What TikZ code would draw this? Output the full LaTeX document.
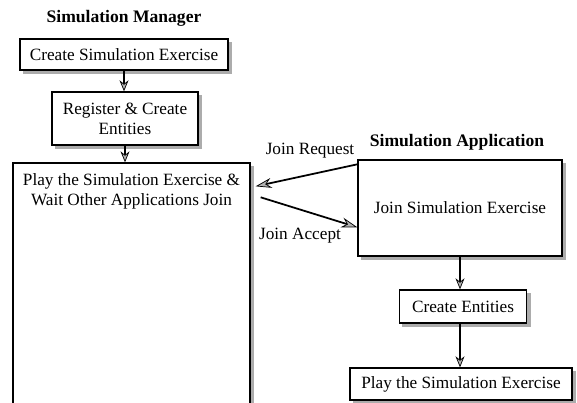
\documentclass[tikz,border=0pt]{standalone}
\usepackage{fontspec}
\setmainfont{Liberation Serif}
\usetikzlibrary{arrows.meta,backgrounds}

\begin{document}
\begin{tikzpicture}[
  x=0.02cm, y=-0.02cm,
  every node/.style={font=\fontsize{9.8}{11.5}\selectfont},
  box/.style={draw, line width=0.8pt, fill=white, align=center, inner sep=0pt},
  title/.style={font=\fontsize{10}{12}\selectfont\bfseries},
  flow/.style={line width=1pt, -{Stealth[length=0.22cm, width=0.18cm, fill=gray!60, line width=0.4pt]}},
  msg/.style={line width=1pt, -{Stealth[length=0.32cm, width=0.2cm, fill=gray!60, line width=0.4pt]}}
]

\clip (0,0) rectangle (577,402);

\node[title] (mgr) at (124,18) {Simulation Manager};
\node[box, minimum width=4.16cm, minimum height=0.62cm] (create) at (124,54.5) {Create Simulation Exercise};
\node[box, minimum width=2.92cm, minimum height=1.06cm] (register) at (125,118.5) {Register \& Create\\Entities};
\node[box, minimum width=4.74cm, minimum height=5.14cm] (bigbox) at (131.5,291.5) {};
\node[align=center] (waittxt) at (131.5,191) {Play the Simulation Exercise \&\\Wait Other Applications Join};

\node[title] (app) at (457,142) {Simulation Application};
\node[box, minimum width=4.08cm, minimum height=1.92cm] (jse) at (460,208) {Join Simulation Exercise};
\node[box, minimum width=2.54cm, minimum height=0.66cm] (entities) at (463,306.5) {Create Entities};
\node[box, minimum width=4.44cm, minimum height=0.64cm] (final) at (461,384) {Play the Simulation Exercise};

\node (req) at (310,151) {Join Request};
\node (acc) at (300,236) {Join Accept};

\begin{scope}[on background layer]
  \foreach \n in {create,register,bigbox,jse,entities,final}
    \fill[gray!65] ([xshift=0.07cm,yshift=-0.07cm]\n.south west) rectangle ([xshift=0.07cm,yshift=-0.07cm]\n.north east);
\end{scope}

\draw[flow] (create.south) -- (create.south |- register.north);
\draw[flow] (register.south) -- (register.south |- bigbox.north);
\draw[msg] ([yshift=-0.1cm]jse.north west) -- ([xshift=0.1cm,yshift=-0.48cm]bigbox.north east);
\draw[msg] ([xshift=0.2cm,yshift=-0.7cm]bigbox.north east) -- ([yshift=-1.36cm]jse.north west);
\draw[flow] (jse.south) -- (jse.south |- entities.north);
\draw[flow] (jse.south |- entities.south) -- (jse.south |- final.north);

\end{tikzpicture}
\end{document}
